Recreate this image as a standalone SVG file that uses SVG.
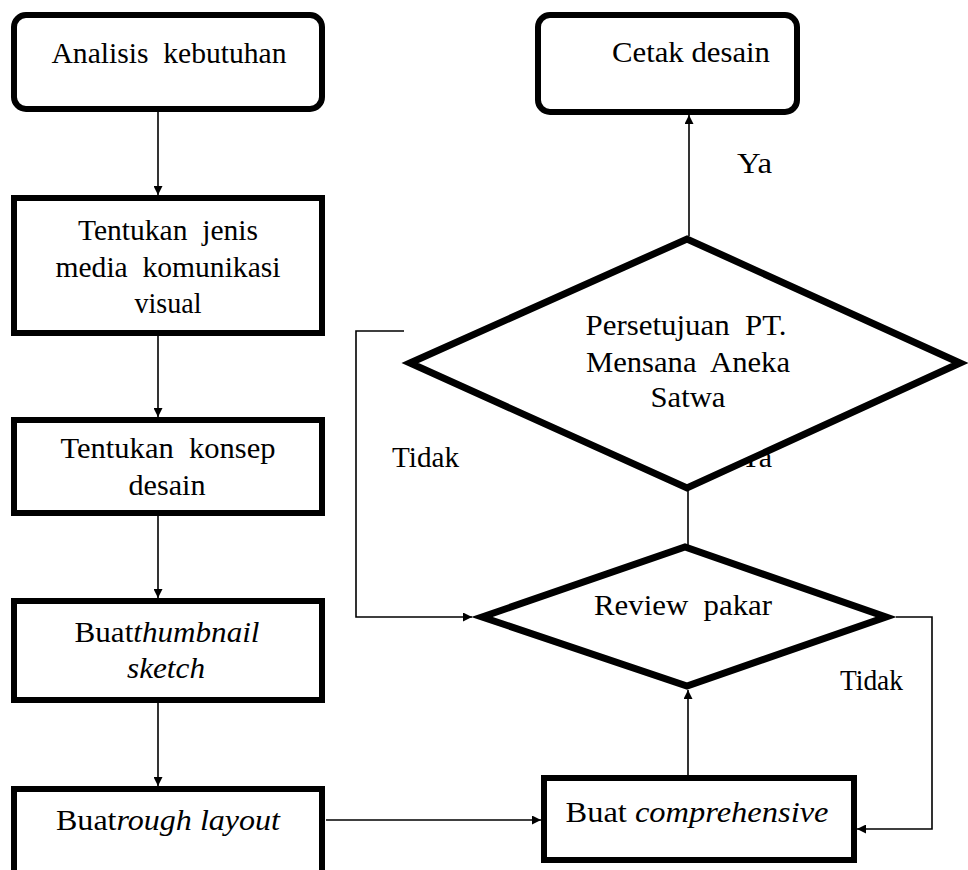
<svg xmlns="http://www.w3.org/2000/svg" width="968" height="870" viewBox="0 0 968 870">
  <style>
    .box { fill: #ffffff; stroke: #000000; stroke-width: 6; }
    .dia { fill: #ffffff; stroke: #000000; stroke-width: 7; stroke-linejoin: miter; }
    .con { fill: none; stroke: #000000; stroke-width: 1.6; }
    .t { font-family: "Liberation Serif", "Times New Roman", serif; font-size: 30px; fill: #000000; }
    .c { text-anchor: middle; }
    .i { font-style: italic; }
  </style>
  <defs>
    <marker id="arrow" viewBox="0 0 10 10" refX="10" refY="5" markerWidth="9" markerHeight="9" markerUnits="userSpaceOnUse" orient="auto">
      <path d="M0,0 L10,5 L0,10 Z" fill="#000000"/>
    </marker>
  </defs>

  <rect width="968" height="870" fill="#ffffff"/>

  <!-- connectors -->
  <g id="connectors">
    <path class="con" d="M158,112 V195" marker-end="url(#arrow)"/>
    <path class="con" d="M158,336 V417" marker-end="url(#arrow)"/>
    <path class="con" d="M158,516 V598" marker-end="url(#arrow)"/>
    <path class="con" d="M158,703 V786" marker-end="url(#arrow)"/>
    <path class="con" d="M326,820 H541" marker-end="url(#arrow)"/>
    <path class="con" d="M688,775 V690" marker-end="url(#arrow)"/>
    <path class="con" d="M896,617 H932 V829 H857" marker-end="url(#arrow)"/>
    <path class="con" d="M688,490 V545"/>
    <path class="con" d="M689,236 V115" marker-end="url(#arrow)"/>
    <path class="con" d="M404,331 H356 V617 H472" marker-end="url(#arrow)"/>
  </g>

  <!-- branch labels (the lower "Ya" sits behind the approval diamond) -->
  <g id="labels">
    <text class="t" x="737" y="173" textLength="35" lengthAdjust="spacingAndGlyphs">Ya</text>
    <text class="t" x="740" y="467">Ya</text>
    <text class="t" x="392" y="467" textLength="67" lengthAdjust="spacingAndGlyphs">Tidak</text>
    <text class="t" x="840" y="690" textLength="63" lengthAdjust="spacingAndGlyphs">Tidak</text>
  </g>

  <g id="analisis">
    <rect class="box" x="14" y="15" width="308" height="94" rx="12"/>
    <text class="t c" x="169" y="63" xml:space="preserve" textLength="235" lengthAdjust="spacingAndGlyphs">Analisis  kebutuhan</text>
  </g>

  <g id="jenis-media">
    <rect class="box" x="14" y="198" width="308" height="135"/>
    <text class="t c" x="168" y="240" xml:space="preserve" textLength="180" lengthAdjust="spacingAndGlyphs">Tentukan  jenis</text>
    <text class="t c" x="168" y="277" xml:space="preserve" textLength="225" lengthAdjust="spacingAndGlyphs">media  komunikasi</text>
    <text class="t c" x="168" y="313" textLength="67" lengthAdjust="spacingAndGlyphs">visual</text>
  </g>

  <g id="konsep">
    <rect class="box" x="14" y="420" width="308" height="93"/>
    <text class="t c" x="168" y="458" xml:space="preserve" textLength="215" lengthAdjust="spacingAndGlyphs">Tentukan  konsep</text>
    <text class="t c" x="167" y="495" textLength="77" lengthAdjust="spacingAndGlyphs">desain</text>
  </g>

  <g id="thumbnail">
    <rect class="box" x="14" y="601" width="308" height="99"/>
    <text class="t c" x="167" y="642" textLength="185" lengthAdjust="spacingAndGlyphs">Buat<tspan class="i">thumbnail</tspan></text>
    <text class="t c i" x="166" y="678" textLength="78" lengthAdjust="spacingAndGlyphs">sketch</text>
  </g>

  <g id="rough-layout">
    <rect class="box" x="14" y="789" width="308" height="120"/>
    <text class="t c" x="168" y="830" textLength="224" lengthAdjust="spacingAndGlyphs">Buat<tspan class="i">rough layout</tspan></text>
  </g>

  <g id="comprehensive">
    <rect class="box" x="544" y="778" width="310" height="82"/>
    <text class="t c" x="697" y="822" xml:space="preserve" textLength="263" lengthAdjust="spacingAndGlyphs">Buat <tspan class="i">comprehensive</tspan></text>
  </g>

  <g id="review">
    <polygon class="dia" points="482,617 685,547 886,617 687,686"/>
    <text class="t c" x="683" y="615" xml:space="preserve" textLength="178" lengthAdjust="spacingAndGlyphs">Review  pakar</text>
  </g>

  <g id="persetujuan">
    <polygon class="dia" points="410,363 687,239 960,363 687,488"/>
    <text class="t c" x="686" y="335" xml:space="preserve" textLength="201" lengthAdjust="spacingAndGlyphs">Persetujuan  PT.</text>
    <text class="t c" x="688" y="372" xml:space="preserve" textLength="204" lengthAdjust="spacingAndGlyphs">Mensana  Aneka</text>
    <text class="t c" x="688" y="407" textLength="75" lengthAdjust="spacingAndGlyphs">Satwa</text>
  </g>

  <g id="cetak">
    <rect class="box" x="538" y="15" width="259" height="97" rx="12"/>
    <text class="t c" x="691" y="62" textLength="158" lengthAdjust="spacingAndGlyphs">Cetak desain</text>
  </g>
</svg>
